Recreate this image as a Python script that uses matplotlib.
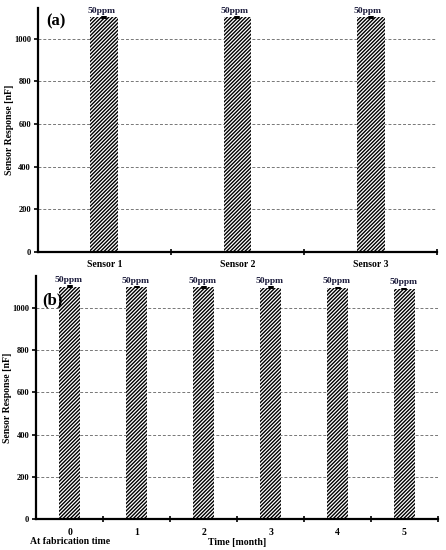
import matplotlib
matplotlib.use("Agg")
import matplotlib.pyplot as plt
import numpy as np

plt.rcParams["font.family"] = ["Liberation Serif", "DejaVu Serif"]
plt.rcParams["font.weight"] = "bold"
plt.rcParams["hatch.color"] = "black"
plt.rcParams["hatch.linewidth"] = 1.0

# panel (a)
sensors = ["Sensor 1", "Sensor 2", "Sensor 3"]
resp_a = [1100, 1100, 1100]
err_a = [6, 6, 6]

# panel (b)
months = ["0", "1", "2", "3", "4", "5"]
resp_b = [1100, 1098, 1097, 1095, 1094, 1089]
err_b = [6, 6, 6, 6, 6, 6]

conc_label = "50ppm"
yticks = [0, 200, 400, 600, 800, 1000]

fig = plt.figure(figsize=(4.46, 5.5), dpi=100)
ax1 = fig.add_axes([0.085, 0.542, 0.895, 0.444])
ax2 = fig.add_axes([0.081, 0.056, 0.901, 0.442])


def style(ax, xpos, ymax):
    ax.set_ylim(0, ymax)
    ax.set_xlim(xpos[0] - 0.5, xpos[-1] + 0.5)
    ax.set_yticks(yticks)
    for y in yticks[1:]:
        ax.axhline(y, color="#777777", ls=(0, (3, 2)), lw=0.7, zorder=0)
    for s in ["top", "right"]:
        ax.spines[s].set_visible(False)
    for s in ["left", "bottom"]:
        ax.spines[s].set_linewidth(1.6)
    ax.tick_params(axis="y", direction="out", length=3, width=1.2, labelsize=6, pad=2)
    ax.tick_params(axis="x", which="major", length=0, labelsize=7, pad=6)
    ax.set_xticks(np.arange(xpos[0] + 0.5, xpos[-1] + 1, 1.0), minor=True)
    ax.tick_params(axis="x", which="minor", direction="inout", length=4, width=1.2)
    ax.set_ylabel("Sensor Response [nF]", fontsize=7, fontweight="bold")
    px = fig.get_size_inches()[0] * fig.dpi * ax.get_position().width
    ax.yaxis.set_label_coords(-24.0 / px, 0.5)


def bars(ax, xpos, vals, errs, width):
    ax.bar(xpos, vals, width=width, color="white", edgecolor="black",
           linewidth=0, hatch="/////////", zorder=2)
    ax.errorbar(xpos, vals, yerr=errs, fmt="none", ecolor="black",
                elinewidth=4, capsize=0, zorder=3)
    for x, v in zip(xpos, vals):
        ax.text(x - 0.02, v + 12, conc_label, ha="center", va="bottom",
                fontsize=6.8, fontweight="bold", color="#1c1c3c")


xa = np.arange(1, len(sensors) + 1)
bars(ax1, xa, resp_a, err_a, 0.21)
style(ax1, xa, 1145)
ax1.set_xticks(xa)
ax1.set_xticklabels(sensors)
ax1.text(0.02, 0.975, "(a)", transform=ax1.transAxes, fontsize=12,
         fontweight="bold", va="top")

xb = np.arange(len(months))
bars(ax2, xb, resp_b, err_b, 0.31)
style(ax2, xb, 1150)
ax2.set_xticks(xb)
ax2.set_xticklabels(months)
ax2.set_xlabel("Time [month]", fontsize=7, fontweight="bold", labelpad=1)
ax2.text(0.015, 0.935, "(b)", transform=ax2.transAxes, fontsize=12,
         fontweight="bold", va="top")
ax2.text(0.0, -0.075, "At fabrication time", transform=ax2.get_xaxis_transform(),
         ha="center", va="top", fontsize=7, fontweight="bold")

fig.savefig("out.png", dpi=100)
